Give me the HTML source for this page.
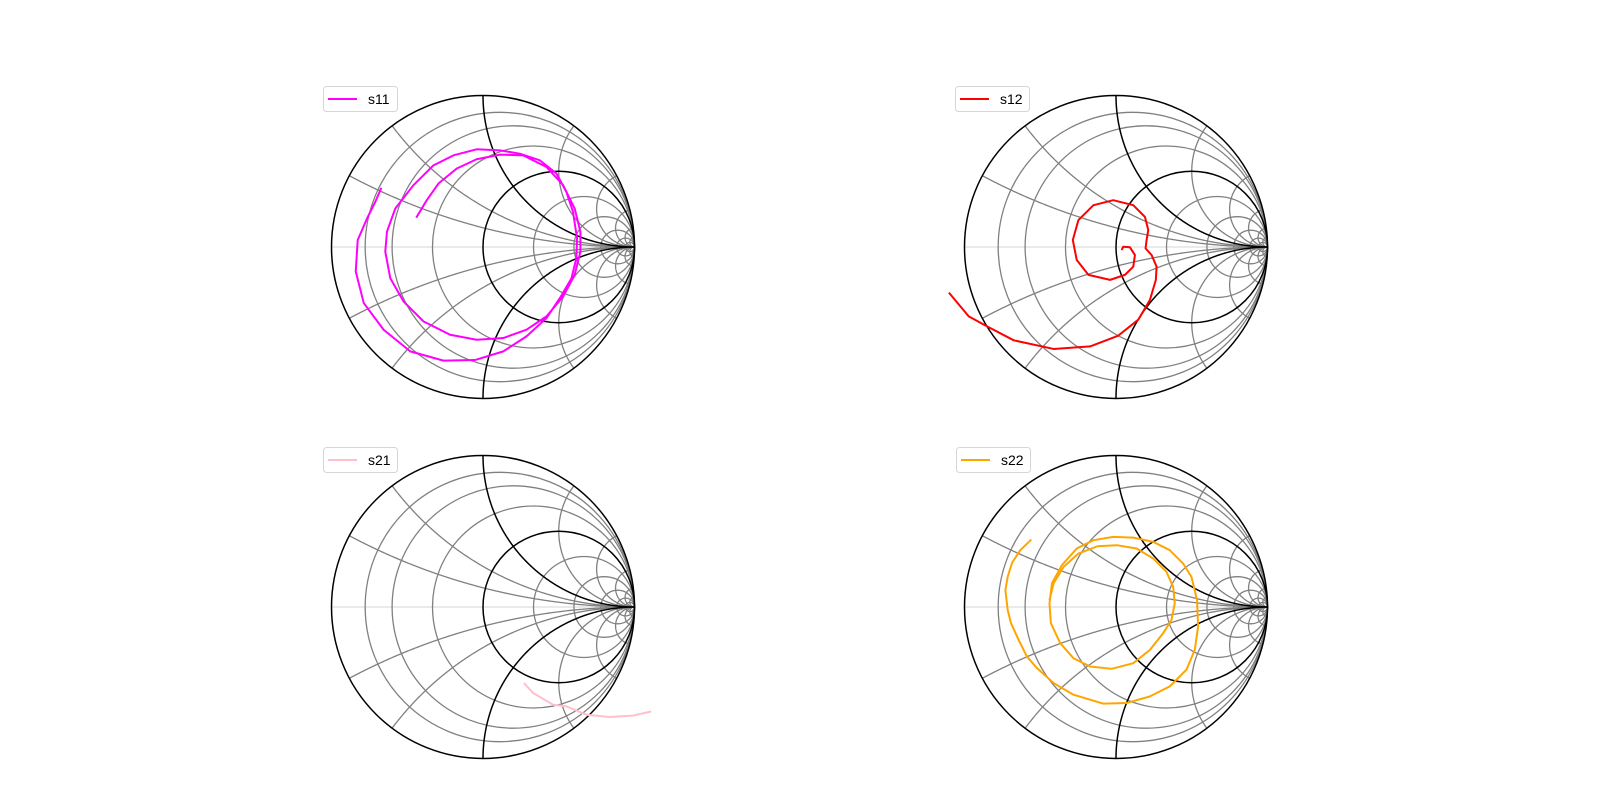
<!DOCTYPE html>
<html><head><meta charset="utf-8">
<style>
html,body{margin:0;padding:0;background:#fff;}
svg{display:block;}
text{font-family:"Liberation Sans","DejaVu Sans",sans-serif;}
</style></head>
<body>
<svg id="fig" width="1600" height="802" viewBox="0 0 1600 802" xmlns="http://www.w3.org/2000/svg"></svg>
<script>
const s11Re = [-0.671,-0.711,-0.765,-0.827,-0.840,-0.787,-0.656,-0.480,-0.261,-0.053,0.134,0.287,0.419,0.507,0.584,0.616,0.621,0.594,0.550,0.485,0.375,0.243,0.112,-0.042,-0.195,-0.327,-0.459,-0.579,-0.634,-0.645,-0.612,-0.524,-0.393,-0.217,-0.042,0.134,0.287,0.419,0.529,0.605,0.643,0.643,0.605,0.529,0.419,0.265,0.112,-0.042,-0.173,-0.294,-0.371,-0.441];
const s11Im = [0.390,0.298,0.189,0.046,-0.162,-0.370,-0.546,-0.689,-0.750,-0.746,-0.689,-0.590,-0.469,-0.338,-0.206,-0.075,0.057,0.232,0.364,0.485,0.572,0.616,0.638,0.645,0.605,0.539,0.408,0.254,0.101,-0.031,-0.206,-0.360,-0.491,-0.579,-0.612,-0.601,-0.546,-0.458,-0.327,-0.184,-0.031,0.101,0.254,0.408,0.528,0.605,0.610,0.579,0.518,0.419,0.309,0.193];
const s12Re = [-1.103,-0.972,-0.851,-0.675,-0.412,-0.171,0.015,0.147,0.224,0.263,0.268,0.235,0.195,0.202,0.213,0.191,0.114,-0.018,-0.149,-0.248,-0.285,-0.259,-0.182,-0.039,0.059,0.114,0.125,0.092,0.048,0.037];
const s12Im = [-0.301,-0.458,-0.524,-0.616,-0.673,-0.656,-0.585,-0.480,-0.349,-0.217,-0.130,-0.053,-0.009,0.046,0.112,0.199,0.276,0.309,0.276,0.178,0.046,-0.086,-0.184,-0.217,-0.184,-0.130,-0.053,-0.002,0.002,-0.020];
const s21Re = [0.270,0.331,0.463,0.551,0.682,0.836,0.989,1.110];
const s21Im = [-0.502,-0.568,-0.645,-0.656,-0.711,-0.726,-0.717,-0.690];
const s22Re = [-0.559,-0.632,-0.686,-0.715,-0.730,-0.715,-0.693,-0.643,-0.588,-0.522,-0.412,-0.281,-0.083,0.070,0.224,0.355,0.465,0.520,0.542,0.535,0.498,0.443,0.355,0.246,0.114,-0.018,-0.149,-0.259,-0.357,-0.423,-0.439,-0.430,-0.368,-0.281,-0.171,-0.028,0.114,0.224,0.311,0.366,0.388,0.377,0.333,0.246,0.136,0.005,-0.122,-0.248,-0.346,-0.412,-0.439];
const s22Im = [0.445,0.375,0.292,0.199,0.112,-0.020,-0.107,-0.217,-0.327,-0.403,-0.502,-0.579,-0.638,-0.634,-0.590,-0.524,-0.414,-0.283,-0.129,0.046,0.199,0.287,0.375,0.430,0.458,0.463,0.441,0.386,0.276,0.156,0.024,-0.107,-0.239,-0.338,-0.393,-0.408,-0.371,-0.283,-0.173,-0.086,0.024,0.134,0.232,0.320,0.386,0.408,0.401,0.353,0.265,0.156,0.046];
const seriesLabels = ["s11","s12","s21","s22"];
const seriesColors = ["#ff00ff","#ff0000","#ffc0cb","#ffa500"];
const lightR = [0.125,0.25,0.5,2,4,8,16,32];
const lightX = [0.25,0.5,2,4,8,16,32];

const NS = "http://www.w3.org/2000/svg";
const svg = document.getElementById("fig");
const R = 151.5;
const centers = [[483,247],[1116,247],[483,607],[1116,607]];
const legendPos = [[323,86],[955,86],[323,447],[956,447]];
const dataRe = [s11Re,s12Re,s21Re,s22Re];
const dataIm = [s11Im,s12Im,s21Im,s22Im];

function mk(tag, attrs, parent){
  const e = document.createElementNS(NS, tag);
  for (const k in attrs) e.setAttribute(k, attrs[k]);
  parent.appendChild(e);
  return e;
}

centers.forEach((c, i) => {
  const cx = c[0], cy = c[1];
  const X = g => cx + g*R;
  const Y = g => cy - g*R;
  const g = mk("g", {}, svg);
  
  

  const ax = mk("line", {x1:X(-1), y1:cy, x2:X(1), y2:cy, stroke:"#e3e3e3", "stroke-width":1.5}, g);
  
  

  lightR.forEach(r => {
    const el = mk("circle", {cx:X(r/(r+1)), cy:cy, r:R/(r+1), fill:"none", stroke:"#808080", "stroke-width":1.3}, g);
    
    
  });
  const arc = (x, color, w, name) => {
    let pts = [];
    for (let k = 0; k <= 300; k++) {
      const t = k/300;
      const r2 = t < 1 ? Math.min(t/(1-t), 1e6) : 1e6;
      const a = r2-1, b = x, c2 = r2+1, d = x;
      const den = c2*c2 + d*d;
      const gr = (a*c2 + b*d)/den, gi = (b*c2 - a*d)/den;
      pts.push(X(gr).toFixed(2)+","+Y(gi).toFixed(2));
    }
    const el = mk("polyline", {points:pts.join(" "), fill:"none", stroke:color, "stroke-width":w}, g);
    
    
  };
  lightX.forEach(x => {
    arc(x, "#808080", 1.3, 'reactance-arc');
    arc(-x, "#808080", 1.3, 'reactance-arc');
  });
  const hc = mk("circle", {cx:X(0.5), cy:cy, r:R/2, fill:"none", stroke:"#000", "stroke-width":1.5}, g);
  
  
  arc(1, "#000", 1.5, 'unit-reactance-arc');
  arc(-1, "#000", 1.5, 'unit-reactance-arc');
  const oc = mk("circle", {cx:cx, cy:cy, r:R, fill:"none", stroke:"#000", "stroke-width":1.5}, g);
  
  

  const re = dataRe[i], im = dataIm[i];
  const pts = re.map((v, k) => X(v).toFixed(2)+","+Y(im[k]).toFixed(2)).join(" ");
  const line = mk("polyline", {points:pts, fill:"none", stroke:seriesColors[i], "stroke-width":2, "stroke-linejoin":"round"}, g);
  
  

  const lx = legendPos[i][0], ly = legendPos[i][1];
  const lg = mk("g", {}, svg);
  
  
  mk("rect", {x:lx+0.5, y:ly+0.5, width:74, height:25, rx:3, fill:"#fff", stroke:"#d6d6d6", "stroke-width":1}, lg);
  mk("line", {x1:lx+5, y1:ly+13, x2:lx+34, y2:ly+13, stroke:seriesColors[i], "stroke-width":2}, lg);
  const tx = mk("text", {x:lx+45, y:ly+18, "font-size":"14", fill:"#000"}, lg);
  tx.textContent = seriesLabels[i];
});
</script>
</body></html>
